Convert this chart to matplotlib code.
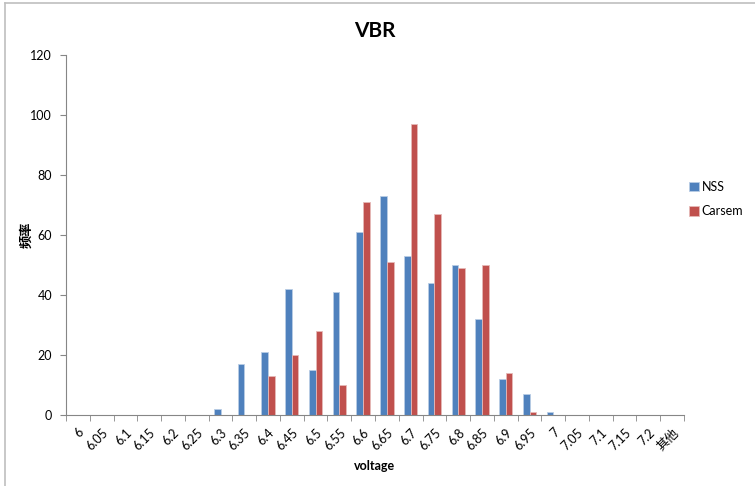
import matplotlib
matplotlib.use('Agg')
import matplotlib.pyplot as plt
import numpy as np
from matplotlib.lines import Line2D

plt.rcParams['font.family'] = ['Lato', 'Noto Sans CJK SC', 'DejaVu Sans']

categories = ['6', '6.05', '6.1', '6.15', '6.2', '6.25', '6.3', '6.35', '6.4', '6.45',
              '6.5', '6.55', '6.6', '6.65', '6.7', '6.75', '6.8', '6.85', '6.9', '6.95',
              '7', '7.05', '7.1', '7.15', '7.2', '其他']
nss = [0, 0, 0, 0, 0, 0, 2, 17, 21, 42, 15, 41, 61, 73, 53, 44, 50, 32, 12, 7,
       1, 0, 0, 0, 0, 0]
carsem = [0, 0, 0, 0, 0, 0, 0, 0, 13, 20, 28, 10, 71, 51, 97, 67, 49, 50, 14, 1,
          0, 0, 0, 0, 0, 0]

fig = plt.figure(figsize=(7.55, 4.86), dpi=100)
ax = fig.add_axes([66 / 755, 71 / 486, 618 / 755, 360 / 486])

x = np.arange(len(categories))
w = 0.28
ax.bar(x - w / 2, nss, w, color='#4F81BD', edgecolor='#B9CDE5', linewidth=0.6, label='NSS')
ax.bar(x + w / 2, carsem, w, color='#C0504D', edgecolor='#E6B9B8', linewidth=0.6, label='Carsem')

ax.set_xlim(-0.5, len(categories) - 0.5)
ax.set_ylim(0, 120)
ax.set_yticks(range(0, 121, 20))
ax.tick_params(axis='y', labelsize=9, length=4, color='#868686', pad=6)

ax.set_xticks(x)
ax.set_xticklabels(categories, rotation=45, ha='right', rotation_mode='anchor', fontsize=9)
ax.tick_params(axis='x', length=0, pad=8)
ax.set_xticks(np.arange(-0.5, len(categories), 1), minor=True)
ax.tick_params(axis='x', which='minor', length=4, color='#868686', direction='out')

for s in ['top', 'right']:
    ax.spines[s].set_visible(False)
for s in ['left', 'bottom']:
    ax.spines[s].set_color('#868686')

ax.set_title('VBR', fontsize=15, fontweight='bold', pad=13)
ax.set_xlabel('voltage', fontsize=9, fontweight='bold')
ax.xaxis.set_label_coords(0.5, -45 / 360)
ax.set_ylabel('频率', fontsize=9.5, fontweight='bold')
ax.yaxis.set_label_coords(-34 / 618, 0.5)

ax.legend(loc='center left', bbox_to_anchor=(0.99, 0.6), frameon=False, fontsize=9,
          handlelength=0.8, handleheight=0.8, handletextpad=0.2, labelspacing=1.0)

fig.add_artist(Line2D([4.5 / 755, 4.5 / 755], [0, 1 - 3.5 / 486], color='#BFBFBF', lw=1.2))
fig.add_artist(Line2D([4.5 / 755, 1], [1 - 3.5 / 486, 1 - 3.5 / 486], color='#BFBFBF', lw=1.2))

fig.savefig('out.png', dpi=100)
